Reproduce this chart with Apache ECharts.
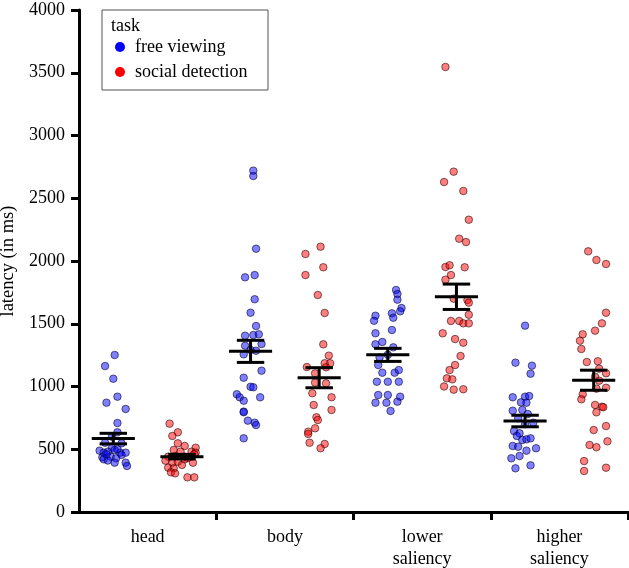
<!DOCTYPE html>
<html><head><meta charset="utf-8">
<script src="https://cdn.jsdelivr.net/npm/echarts@6/dist/echarts.min.js"></script>
<style>html,body{margin:0;padding:0;background:#fff}#c{width:629px;height:568px}</style>
</head><body><div id="c"></div>
<script>
// ---------- data ----------
const categories = ['head', 'body', 'lower\nsaliency', 'higher\nsaliency'];
const tasks = ['free viewing', 'social detection'];
const yTicks = [0, 500, 1000, 1500, 2000, 2500, 3000, 3500, 4000];

// latency values (ms) per participant, with horizontal jitter (fraction of category width)
const headFree = [1251,1163,1062,919,871,821,709,635,600,552,547,512,489,473,481,494,473,473,436,441,428,420,393,393,367,460,500,455,410];
const headFreeJitter = [0.01,-0.06,0.0,0.03,-0.05,0.09,0.03,0.03,-0.01,-0.06,0.06,-0.01,-0.10,-0.07,-0.04,0.01,0.05,0.09,-0.08,-0.02,0.02,-0.07,0.01,0.09,0.10,-0.05,0.03,0.06,-0.04];
const headSocial = [704,635,606,547,526,512,494,481,481,473,441,446,441,441,409,393,401,393,375,353,348,316,308,276,276,430,460,420];
const headSocialJitter = [-0.09,-0.03,-0.07,-0.03,0.02,0.10,-0.06,-0.01,0.07,0.10,-0.10,-0.05,0.02,0.07,-0.12,-0.07,-0.03,0.08,0.0,-0.10,-0.06,-0.08,-0.05,0.04,0.09,0.04,0.09,0.02];
const bodyFree = [2720,2677,2098,1870,1888,1695,1588,1482,1405,1410,1416,1339,1325,1256,1291,1285,1126,1070,998,994,938,914,887,914,800,795,728,712,693,587];
const bodyFreeJitter = [0.02,0.02,0.04,-0.04,0.03,0.03,0.0,0.04,-0.04,0.02,0.06,0.08,-0.04,-0.05,0.0,0.04,0.08,-0.05,0.0,0.02,-0.10,-0.08,-0.05,0.07,-0.05,-0.05,-0.02,0.03,0.04,-0.05];
const bodySocial = [2056,2114,1950,1888,1729,1586,1336,1246,1185,1185,1155,1153,1105,1031,1025,946,914,853,813,755,733,667,640,622,552,542,508];
const bodySocialJitter = [-0.10,0.01,0.03,-0.10,-0.01,0.04,0.03,0.07,0.04,0.08,-0.09,0.05,-0.03,-0.03,0.05,-0.05,0.09,-0.04,0.09,-0.02,-0.01,-0.03,-0.08,-0.08,-0.07,0.04,0.01];
const lowerFree = [1769,1737,1692,1625,1599,1564,1524,1583,1548,1450,1424,1355,1336,1312,1253,1232,1171,1110,1110,1131,1038,1038,1038,932,932,879,919,871,871,805];
const lowerFreeJitter = [0.06,0.07,0.07,0.10,0.09,-0.09,-0.10,0.03,0.04,0.03,-0.09,-0.04,-0.09,0.04,0.0,-0.06,-0.07,-0.04,0.05,0.08,-0.08,0.0,0.08,-0.07,0.0,0.07,0.09,-0.09,-0.01,0.02];
const lowerSocial = [3546,2712,2629,2558,2329,2178,2151,1952,1966,1950,1888,1851,1700,1689,1668,1572,1522,1522,1503,1503,1424,1378,1349,1243,1171,1131,1065,1057,1000,975,978];
const lowerSocialJitter = [-0.08,-0.02,-0.09,0.05,0.09,0.02,0.07,-0.08,-0.05,0.06,-0.04,-0.08,-0.02,0.08,0.09,0.09,-0.04,0.02,0.05,0.09,-0.10,-0.01,0.05,0.03,-0.01,-0.05,-0.07,-0.03,-0.09,-0.02,0.05];
const higherFree = [1485,1190,1166,1102,914,919,924,874,871,807,813,781,747,712,699,645,627,606,574,579,587,526,520,508,489,446,428,372,348];
const higherFreeJitter = [0.0,-0.07,0.05,0.04,-0.09,0.0,0.03,-0.03,0.01,-0.09,-0.02,0.02,-0.05,0.06,0.0,-0.08,-0.04,-0.06,-0.02,0.01,0.04,-0.09,-0.05,0.08,0.01,-0.04,-0.10,0.04,-0.07];
const higherSocial = [2077,2008,1976,1588,1503,1445,1416,1365,1299,1195,1201,1142,1105,1078,1046,990,983,938,898,853,839,835,794,685,653,563,534,516,406,353,327];
const higherSocialJitter = [-0.04,0.02,0.09,0.09,0.06,0.01,-0.08,-0.10,-0.09,-0.05,0.03,0.04,0.09,0.01,0.04,0.09,0.02,-0.08,-0.09,0.01,0.06,0.07,0.02,0.09,0.0,0.10,-0.03,0.02,-0.07,0.09,-0.07];

// group means and standard errors (ms)
const freeMean = [585, 1280, 1252, 725];
const freeSE = [42, 88, 52, 46];
const socialMean = [441, 1070, 1715, 1050];
const socialSE = [18, 80, 101, 80];

// ---------- build ----------
const FONT = 'Liberation Serif';
const freeGroups = [[headFree, headFreeJitter], [bodyFree, bodyFreeJitter], [lowerFree, lowerFreeJitter], [higherFree, higherFreeJitter]];
const socialGroups = [[headSocial, headSocialJitter], [bodySocial, bodySocialJitter], [lowerSocial, lowerSocialJitter], [higherSocial, higherSocialJitter]];
const taskOffset = [0.25, 0.75];

function points(groups, off) {
  const out = [];
  groups.forEach((g, ci) => {
    g[0].forEach((v, i) => out.push([ci + off + g[1][i], v]));
  });
  return out;
}
function bars(means, ses, off) {
  return means.map((m, ci) => [ci + off, m, ses[ci]]);
}

const chart = echarts.init(document.getElementById('c'), null, {renderer: 'canvas'});

function errRender(params, api) {
  const x = api.value(0), m = api.value(1), se = api.value(2);
  const pm = api.coord([x, m]);
  const pt = api.coord([x, m + se]);
  const pb = api.coord([x, m - se]);
  const wMean = api.size([0.157, 0])[0];
  const wCap = api.size([0.10, 0])[0];
  const st = {stroke: '#000', lineWidth: 3, fill: null};
  return {
    type: 'group',
    children: [
      {type: 'line', shape: {x1: pm[0], y1: pt[1], x2: pm[0], y2: pb[1]}, style: st},
      {type: 'line', shape: {x1: pm[0] - wMean, y1: pm[1], x2: pm[0] + wMean, y2: pm[1]}, style: st},
      {type: 'line', shape: {x1: pm[0] - wCap, y1: pt[1], x2: pm[0] + wCap, y2: pt[1]}, style: st},
      {type: 'line', shape: {x1: pm[0] - wCap, y1: pb[1], x2: pm[0] + wCap, y2: pb[1]}, style: st}
    ]
  };
}

const option = {
  backgroundColor: '#fff',
  animation: false,
  textStyle: {fontFamily: FONT},
  grid: {left: 79, right: 1, top: 10, bottom: 56, containLabel: false, outerBoundsMode: 'none'},
  xAxis: {
    type: 'value', min: 0, max: 4,
    axisLine: {show: true, lineStyle: {color: '#000', width: 3}},
    axisTick: {show: true, length: 8, lineStyle: {color: '#000', width: 3}, customValues: [1, 2, 3, 4]},
    axisLabel: {
      customValues: [0.5, 1.5, 2.5, 3.5],
      formatter: v => categories[Math.floor(v)],
      color: '#000', fontFamily: FONT, fontSize: 18, margin: 14, lineHeight: 22
    },
    splitLine: {show: false}
  },
  yAxis: {
    type: 'value', min: 0, max: 4000, interval: 500,
    name: 'latency (in ms)', nameLocation: 'middle', nameGap: 57,
    nameTextStyle: {color: '#000', fontFamily: FONT, fontSize: 18.5},
    axisLine: {show: true, lineStyle: {color: '#000', width: 3}},
    axisTick: {show: true, length: 8, lineStyle: {color: '#000', width: 3}},
    axisLabel: {color: '#000', fontFamily: FONT, fontSize: 18, margin: 14,
      formatter: v => yTicks.indexOf(v) >= 0 ? String(v) : ''},
    splitLine: {show: false}
  },
  graphic: [
    {type: 'rect', z: 1, shape: {x: 102, y: 10, width: 166, height: 80}, style: {fill: '#fff', stroke: '#555', lineWidth: 1}},
    {type: 'text', z: 2, x: 111, y: 17, style: {text: 'task', font: '18px "Liberation Serif"', fill: '#000'}}
  ],
  legend: {
    orient: 'vertical', left: 115, top: 38, z: 5, padding: 0,
    icon: 'circle', itemWidth: 10, itemHeight: 10, itemGap: 7,
    textStyle: {color: '#000', fontFamily: FONT, fontSize: 18, padding: [0, 0, 0, 5]},
    data: [
      {name: tasks[0], itemStyle: {color: '#0000ff', borderWidth: 0, opacity: 1}},
      {name: tasks[1], itemStyle: {color: '#ff0000', borderWidth: 0, opacity: 1}}
    ]
  },
  series: [
    {
      name: tasks[0], type: 'scatter', symbol: 'circle', symbolSize: 7.5, z: 2,
      itemStyle: {color: 'rgba(0,0,255,0.5)', borderColor: 'rgba(0,0,40,0.65)', borderWidth: 0.9, opacity: 1},
      data: points(freeGroups, taskOffset[0])
    },
    {
      name: tasks[1], type: 'scatter', symbol: 'circle', symbolSize: 7.5, z: 2,
      itemStyle: {color: 'rgba(255,0,0,0.5)', borderColor: 'rgba(40,0,0,0.65)', borderWidth: 0.9, opacity: 1},
      data: points(socialGroups, taskOffset[1])
    },
    {
      type: 'custom', z: 3, renderItem: errRender, silent: true,
      data: bars(freeMean, freeSE, taskOffset[0]).concat(bars(socialMean, socialSE, taskOffset[1]))
    }
  ]
};
chart.setOption(option);
</script>
</body></html>
